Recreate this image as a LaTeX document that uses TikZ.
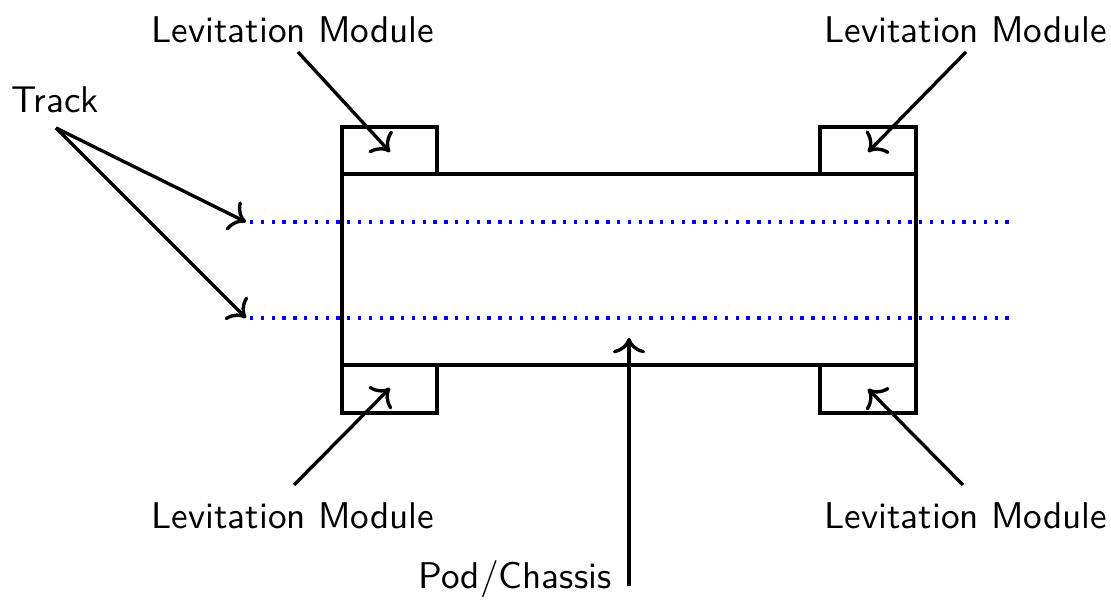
\documentclass[tikz,border=0pt]{standalone}
\usetikzlibrary{arrows.meta}
\begin{document}
\begin{tikzpicture}[x=0.2687pt,y=-0.2687pt,
  lbl/.style={font=\sffamily, inner sep=0pt},
  part/.style={draw, line width=0.9pt},
  ptr/.style={-{To[scale=1.15]}, line width=0.9pt},
  track/.style={blue, line width=0.9pt, dotted}]
\useasboundingbox (0,0) rectangle (1111,600);
% chassis and modules
\draw[part] (342,174) rectangle (916,365);
\draw[part] (342,127) rectangle (437,174);
\draw[part] (820,127) rectangle (916,174);
\draw[part] (342,365) rectangle (437,413);
\draw[part] (820,365) rectangle (916,413);
% track lines
\coordinate (t1a) at (246,222); \coordinate (t1b) at (1012,222);
\coordinate (t2a) at (246,318); \coordinate (t2b) at (1012,318);
\draw[track] (250,222) -- (t1b);
\draw[track] (250,318) -- (t2b);
% labels
\node[lbl] (track) at (55,100) {Track};
\node[lbl] (lmtl) at (293,30) {Levitation Module};
\node[lbl] (lmtr) at (966,30) {Levitation Module};
\node[lbl] (lmbl) at (293,516) {Levitation Module};
\node[lbl] (lmbr) at (966,516) {Levitation Module};
\node[lbl] (pod) at (515,579) {Pod/Chassis};
% targets
\coordinate (trs) at (56,128);
\coordinate (ptl) at (390,152);
\coordinate (ptr) at (868,152);
\coordinate (pbl) at (390,388);
\coordinate (pbr) at (868,389);
\coordinate (pch) at (629,338);
\coordinate (pcs) at (629,586);
% connectors
\draw[ptr] (trs) -- (t1a);
\draw[ptr] (trs) -- (t2a);
\draw[ptr] (298,52) -- (ptl);
\draw[ptr] (966,52) -- (ptr);
\draw[ptr] (294,485) -- (pbl);
\draw[ptr] (963,485) -- (pbr);
\draw[ptr] (pcs) -- (pch);
\end{tikzpicture}
\end{document}
